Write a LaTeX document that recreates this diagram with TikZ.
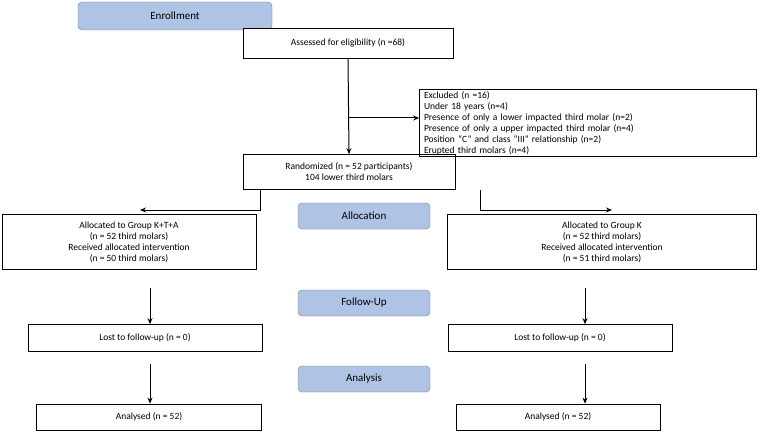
\documentclass[tikz,border=0pt]{standalone}
\usepackage{fontspec}
\setmainfont{Carlito}
\usetikzlibrary{positioning,arrows.meta}
\definecolor{phase}{RGB}{175,195,228}
\tikzset{
  box/.style={draw, line width=0.7pt, inner sep=2pt, font=\fontsize{9.5}{11}\selectfont, align=center},
  phase/.style={draw=gray, fill=phase, rounded corners=4pt, minimum width=132pt, minimum height=26pt, font=\fontsize{11}{13}\selectfont},
  arr/.style={-{Stealth[length=6pt,width=5pt]}, line width=1pt},
}
\begin{document}
\begin{tikzpicture}[x=1pt,y=-1pt]
\useasboundingbox (0,0) rectangle (763,433);
\node[phase, minimum width=194pt, minimum height=28pt] (enrol) at (175,16) {Enrollment};
\node[box, minimum width=210pt, minimum height=30pt, fill=white] (assess) at (348,43) {Assessed for eligibility (n =68)};
\node[box, minimum width=337pt, minimum height=67pt, align=left, text width=328pt] (excl) at (588,123)
  {Excluded (n =16)\\Under 18 years (n=4)\\Presence of only a lower impacted third molar (n=2)\\Presence of only a upper impacted third molar (n=4)\\Position “C” and class “III” relationship (n=2)\\Erupted third molars (n=4)};
\node[box, minimum width=212pt, minimum height=35pt] (rand) at (349,172) {Randomized (n = 52 participants)\\104 lower third molars};
\node[phase] (alloc) at (364,216) {Allocation};
\node[box, minimum width=254pt, minimum height=55pt] (allocL) at (129,242) {Allocated to Group K+T+A\\(n = 52 third molars)\\Received allocated intervention\\(n = 50 third molars)};
\node[box, minimum width=309pt, minimum height=55pt] (allocR) at (602,242) {Allocated to Group K\\(n = 52 third molars)\\Received allocated intervention\\(n = 51 third molars)};
\node[phase] (follow) at (364,303) {Follow-Up};
\node[box, minimum width=234pt, minimum height=27pt] (lostL) at (145,338) {Lost to follow-up (n = 0)};
\node[box, minimum width=224pt, minimum height=27pt] (lostR) at (560,338) {Lost to follow-up (n = 0)};
\node[phase] (anal) at (364,379) {Analysis};
\node[box, minimum width=225pt, minimum height=26pt] (anaL) at (149,417) {Analysed (n = 52)};
\node[box, minimum width=204pt, minimum height=26pt] (anaR) at (558,417) {Analysed (n = 52)};
% connectors
\draw[arr] (assess.south) -- (rand.north);
\coordinate (ex) at (348,118);
\draw[arr] (ex) -- (excl.west |- ex);
\draw[arr] (rand.south -| 260,0) |- (140,210);
\draw[arr] (rand.south -| 480,0) |- (612,210);
\coordinate (fl) at (150,288);
\coordinate (fr) at (585,288);
\coordinate (al) at (150,364);
\coordinate (ar) at (585,364);
\draw[arr] (fl) -- (lostL.north -| fl);
\draw[arr] (fr) -- (lostR.north -| fr);
\draw[arr] (al) -- (anaL.north -| al);
\draw[arr] (ar) -- (anaR.north -| ar);
\end{tikzpicture}
\end{document}
